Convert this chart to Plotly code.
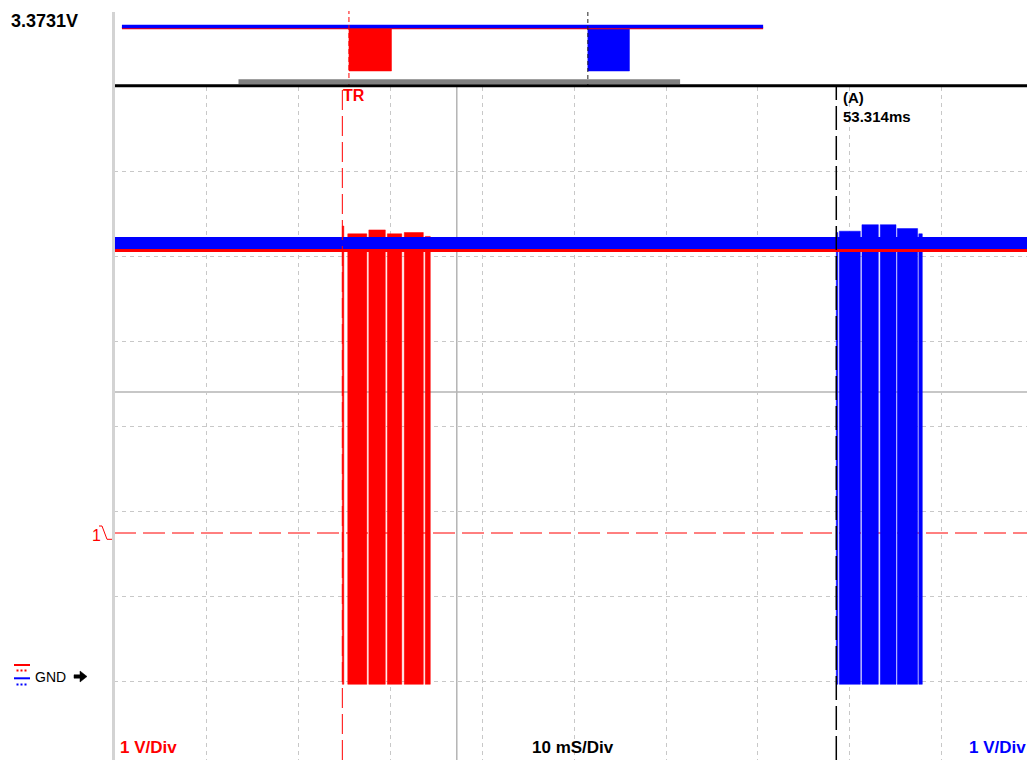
import plotly.graph_objects as go

# ---------------- data ----------------
view_ms = [0.0, 99.24]            # visible time window of the main screen
capture_ms = [-26.2, 117.9]       # whole capture shown in the overview strip
trigger_ms = 24.82
cursor_ms = 78.51
cursor_label = "53.314ms"
trigger_level_v = 1.142
ch_a_high_v = 3.32                # red channel idle level
ch_b_high_v = 3.37                # blue channel idle level
low_v = -0.02

red_starts = [24.82, 25.41, 27.70, 29.71, 31.55, 33.83]
red_ends = [24.98, 27.48, 29.49, 31.28, 33.62, 34.38]
red_tops = [3.50, 3.44, 3.47, 3.44, 3.45, 3.42]

blue_starts = [78.51, 78.84, 81.30, 83.29, 85.14, 87.48]
blue_ends = [78.67, 81.12, 83.08, 85.00, 87.35, 87.86]
blue_tops = [3.45, 3.46, 3.51, 3.51, 3.48, 3.44]

readout_text = "3.3731V"
timebase_text = "10 mS/Div"
ch_a_scale_text = "1 V/Div"
ch_b_scale_text = "1 V/Div"

# ---------------- geometry helpers ----------------
W, H = 1027, 760
L = 114
PW = W - L


def px(x):
    return (x - L) / PW


def py(y):
    return 1 - y / H


RED = "#ff0000"
BLUE = "#0000ff"
FONT = "Liberation Sans, Arial, sans-serif"


def polys(starts, ends, tops, bottom):
    xs, ys = [], []
    for s, e, t in zip(starts, ends, tops):
        xs += [s, s, e, e, s, None]
        ys += [bottom, t, t, bottom, bottom, None]
    return xs, ys


fig = go.Figure()

# ---- main screen ----
rx, ry = polys(red_starts, red_ends, red_tops, low_v)
fig.add_trace(go.Scatter(x=rx, y=ry, fill="toself", mode="lines",
                         line=dict(color=RED, width=0.5), fillcolor=RED,
                         hoverinfo="skip", showlegend=False))
bx, by = polys(blue_starts, blue_ends, blue_tops, low_v)
fig.add_trace(go.Scatter(x=bx, y=by, fill="toself", mode="lines",
                         line=dict(color=BLUE, width=0.5), fillcolor=BLUE,
                         hoverinfo="skip", showlegend=False))
fig.add_trace(go.Scatter(x=view_ms, y=[ch_a_high_v] * 2, mode="lines",
                         line=dict(color=RED, width=5), showlegend=False))
fig.add_trace(go.Scatter(x=view_ms, y=[ch_b_high_v] * 2, mode="lines",
                         line=dict(color=BLUE, width=12), showlegend=False))

# ---- overview strip ----
ox_r, oy_r = polys([min(red_starts)], [max(red_ends)], [ch_b_high_v], 0)
ox_b, oy_b = polys([min(blue_starts)], [max(blue_ends)], [ch_b_high_v], 0)
fig.add_trace(go.Scatter(x=ox_r, y=oy_r, fill="toself", mode="lines",
                         line=dict(color=RED, width=0.5), fillcolor=RED,
                         xaxis="x2", yaxis="y2", showlegend=False))
fig.add_trace(go.Scatter(x=ox_b, y=oy_b, fill="toself", mode="lines",
                         line=dict(color=BLUE, width=0.5), fillcolor=BLUE,
                         xaxis="x2", yaxis="y2", showlegend=False))
fig.add_trace(go.Scatter(x=capture_ms, y=[ch_b_high_v - 0.08] * 2, mode="lines",
                         line=dict(color=RED, width=2.5),
                         xaxis="x2", yaxis="y2", showlegend=False))
fig.add_trace(go.Scatter(x=capture_ms, y=[ch_b_high_v + 0.04] * 2, mode="lines",
                         line=dict(color=BLUE, width=3.5),
                         xaxis="x2", yaxis="y2", showlegend=False))

shapes = []
# solid reference lines
shapes.append(dict(type="line", xref="x", yref="paper", x0=37.26, x1=37.26,
                   y0=0, y1=py(87), line=dict(color="#b4b4b4", width=1.5), layer="below"))
shapes.append(dict(type="line", xref="paper", yref="paper", x0=0, x1=1,
                   y0=py(392), y1=py(392), line=dict(color="#b4b4b4", width=1.5), layer="below"))
# trigger level
shapes.append(dict(type="line", xref="paper", yref="y", x0=0, x1=1,
                   y0=trigger_level_v, y1=trigger_level_v,
                   line=dict(color=RED, width=1, dash="22px,7px"), layer="below"))
# trigger position
shapes.append(dict(type="line", xref="x", yref="paper", x0=trigger_ms, x1=trigger_ms,
                   y0=0, y1=py(87), line=dict(color=RED, width=1, dash="20px,6px")))
shapes.append(dict(type="line", xref="x2", yref="paper", x0=trigger_ms, x1=trigger_ms,
                   y0=py(86), y1=py(11), line=dict(color=RED, width=1, dash="5px,3px")))
# cursor A
shapes.append(dict(type="line", xref="x", yref="paper", x0=cursor_ms, x1=cursor_ms,
                   y0=0, y1=py(87), line=dict(color="black", width=1.5, dash="24px,6px")))
shapes.append(dict(type="line", xref="x2", yref="paper", x0=cursor_ms, x1=cursor_ms,
                   y0=py(86), y1=py(11), line=dict(color="#222222", width=1, dash="4px,3px")))
# overview view-window bar and separator
shapes.append(dict(type="rect", xref="x2", yref="paper", x0=view_ms[0], x1=view_ms[1],
                   y0=py(84), y1=py(79.3), fillcolor="#808080", line=dict(width=0)))
shapes.append(dict(type="line", xref="paper", yref="paper", x0=0, x1=1,
                   y0=py(85.7), y1=py(85.7), line=dict(color="black", width=3)))
# left border
shapes.append(dict(type="line", xref="paper", yref="paper", x0=px(113.5), x1=px(113.5),
                   y0=0, y1=py(12), line=dict(color="#d3d3d3", width=3)))
# trigger edge symbol
shapes.append(dict(type="path", xref="paper", yref="paper",
                   path=f"M {px(99)},{py(526)} L {px(102)},{py(526)} L {px(107)},{py(539.3)} L {px(112)},{py(539.3)}",
                   line=dict(color=RED, width=1)))
# ground symbols
shapes.append(dict(type="line", xref="paper", yref="paper", x0=px(14), x1=px(30),
                   y0=py(665), y1=py(665), line=dict(color=RED, width=2)))
shapes.append(dict(type="line", xref="paper", yref="paper", x0=px(16.5), x1=px(27.5),
                   y0=py(670.5), y1=py(670.5), line=dict(color=RED, width=2, dash="2px,2px")))
shapes.append(dict(type="line", xref="paper", yref="paper", x0=px(14), x1=px(30),
                   y0=py(678.3), y1=py(678.3), line=dict(color=BLUE, width=2)))
shapes.append(dict(type="line", xref="paper", yref="paper", x0=px(16.5), x1=px(27.5),
                   y0=py(684.5), y1=py(684.5), line=dict(color=BLUE, width=2, dash="2px,2px")))
# arrow
shapes.append(dict(type="path", xref="paper", yref="paper",
                   path=(f"M {px(74)},{py(674.8)} L {px(80)},{py(674.8)} L {px(80)},{py(671)} "
                         f"L {px(87)},{py(676.5)} L {px(80)},{py(682)} L {px(80)},{py(678.2)} "
                         f"L {px(74)},{py(678.2)} Z"),
                   fillcolor="black", line=dict(color="black", width=0.5)))


def ann(text, x, y, size, color="black", bold=True, xanchor="left"):
    return dict(text=text, xref="paper", yref="paper", x=px(x), y=py(y),
                xanchor=xanchor, yanchor="middle", showarrow=False,
                font=dict(family=FONT, size=size, color=color,
                          weight="bold" if bold else "normal"))


annotations = [
    ann(readout_text, 9, 21, 18),
    ann("TR", 341, 95, 16, RED),
    ann("(A)", 841, 97, 15),
    ann(cursor_label, 841, 116, 15),
    ann(ch_a_scale_text, 118, 747, 17, RED),
    ann(timebase_text, 530, 747, 17),
    ann(ch_b_scale_text, 1028, 747, 17, BLUE, xanchor="right"),
    ann("GND", 33, 676.5, 14, bold=False),
    ann("1", 90, 535, 16, RED, bold=False),
]

axis_common = dict(showticklabels=False, ticks="", zeroline=False, showline=False,
                   fixedrange=True)
fig.update_layout(
    width=W, height=H, autosize=False,
    margin=dict(l=L, r=0, t=0, b=0),
    paper_bgcolor="white", plot_bgcolor="white",
    showlegend=False,
    xaxis=dict(domain=[0, 1], range=view_ms, showgrid=True, gridcolor="#c8c8c8",
               griddash="4px,4px", gridwidth=1, tick0=0, dtick=10, **axis_common),
    yaxis=dict(domain=[0, py(87)], range=[-0.6014, 4.5676], showgrid=True,
               gridcolor="#c8c8c8", griddash="4px,4px", gridwidth=1,
               tick0=0, dtick=0.6528, **axis_common),
    xaxis2=dict(domain=[0, 1], range=[-27.98, 177.2], anchor="y2", visible=False,
                fixedrange=True),
    yaxis2=dict(domain=[py(86), 1], range=[-1.149, 5.437], anchor="x2", visible=False,
                fixedrange=True),
    shapes=shapes,
    annotations=annotations,
)

fig.write_html("out.html", config={"displayModeBar": False},
               post_script="document.body.style.margin='0';document.body.style.overflow='hidden';")
